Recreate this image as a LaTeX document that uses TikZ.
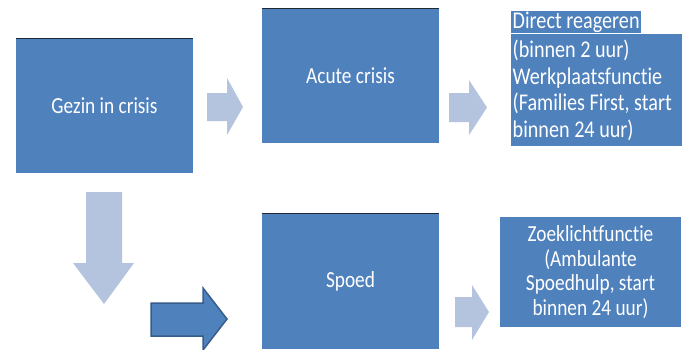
\documentclass[tikz,border=0pt]{standalone}
\usepackage{fontspec}
\setmainfont{Carlito}[FakeStretch=0.84, Ligatures=NoCommon]
\definecolor{boxblue}{HTML}{4F81BD}
\definecolor{lightarrow}{HTML}{B4C4DF}
\definecolor{darkedge}{HTML}{385D8A}
\definecolor{topline}{HTML}{1F2A36}
\begin{document}
\begin{tikzpicture}[x=1pt,y=-1pt,
  bluebox/.style={fill=boxblue, draw=none, text=white, inner sep=0pt,
    font=\fontsize{23}{24.5}\selectfont},
  toprule/.style={draw=topline, line width=1pt},
  lightarr/.style={fill=lightarrow, draw=none},
  darkarr/.style={fill=boxblue, draw=darkedge, line width=1.5pt, line join=miter}]
\useasboundingbox (0,0) rectangle (684,349);
\fill[white] (0,0) rectangle (684,349);

% main boxes
\node[bluebox, minimum width=177pt, minimum height=134pt] (gezin) at (104.5,106) {Gezin in crisis};
\node[bluebox, minimum width=177pt, minimum height=134.5pt] (acute) at (350.5,75.75) {Acute crisis};
\node[bluebox, minimum width=177pt, minimum height=135pt] (spoed) at (350.5,281.5) {Spoed};
\draw[toprule] (gezin.north west) -- (gezin.north east);
\draw[toprule] (acute.north west) -- (acute.north east);
\draw[toprule] (spoed.north west) -- (spoed.north east);

% top right text box
\node[bluebox, anchor=north west, minimum width=171pt, minimum height=112pt,
  text width=168pt, inner xsep=1.5pt, align=left,
  font=\fontsize{24}{26.5}\selectfont] (werk) at (511,34)
  {\spaceskip=0pt\xspaceskip=0pt (binnen 2 uur)\\Werkplaatsfunctie\\(Families First, start\\binnen 24 uur)};
\node[bluebox, anchor=north west, minimum height=22pt, inner xsep=1.5pt,
  font=\fontsize{24}{26.5}\selectfont] (direct) at (511,11) {Direct reageren};

% bottom right text box
\node[bluebox, minimum width=181pt, minimum height=110pt, align=center] (zoek) at (590.5,272)
  {Zoeklichtfunctie\\(Ambulante\\Spoedhulp, start\\binnen 24 uur)};

% block arrows
\path[lightarr] (207,93) -- (227,93) -- (227,78) -- (243,107) -- (227,135) -- (227,121) -- (207,121) -- cycle;
\path[lightarr] (449,93) -- (469,93) -- (469,80) -- (487,107.5) -- (469,135) -- (469,122) -- (449,122) -- cycle;
\path[lightarr] (455,297) -- (472,297) -- (472,285) -- (489,312) -- (472,340) -- (472,327) -- (455,327) -- cycle;
\path[lightarr] (86,192) -- (122,192) -- (122,263) -- (134,263) -- (104,304) -- (73,263) -- (86,263) -- cycle;
\path[darkarr] (151,303) -- (203,303) -- (203,288) -- (227,319) -- (203,350) -- (203,336) -- (151,336) -- cycle;
\end{tikzpicture}
\end{document}
